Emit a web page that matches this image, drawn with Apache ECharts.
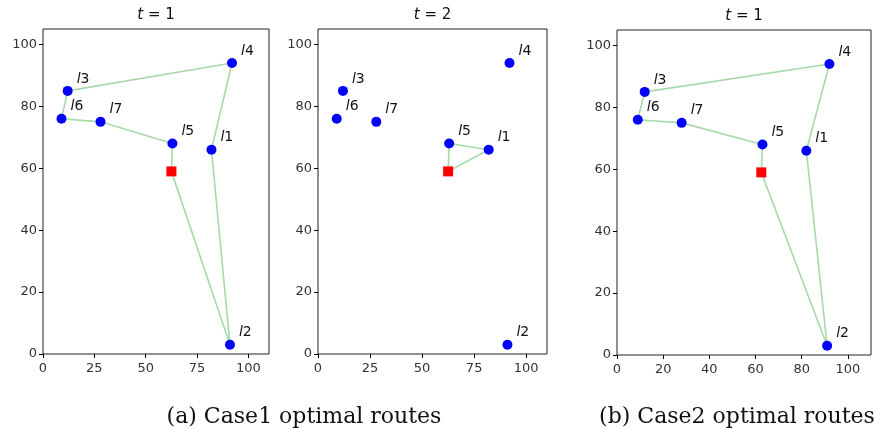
<!DOCTYPE html>
<html>
<head>
<meta charset="utf-8">
<script src="https://cdn.jsdelivr.net/npm/echarts@6/dist/echarts.min.js"></script>
<style>
  html, body { margin: 0; padding: 0; background: #fff; }
  #chart { width: 884px; height: 429px; }
</style>
</head>
<body>
<div id="chart"></div>
<script>
// 客户点坐标
const customerNames = ['1', '2', '3', '4', '5', '6', '7'];
const customerX = [82, 91, 12, 92, 63, 9, 28];
const customerY = [66, 3, 85, 94, 68, 76, 75];
const depot = [62.5, 59];

// 路线（客户下标，-1 表示仓库）
const routeCase1T1 = [-1, 4, 6, 5, 2, 3, 0, 1, -1];
const routeCase1T2 = [-1, 4, 0, -1];
const routeCase2T1 = [-1, 4, 6, 5, 2, 3, 0, 1, -1];

const panelTitles = ['1', '2', '1'];
const xTicksA = [0, 25, 50, 75, 100];
const xTicksB = [0, 20, 40, 60, 80, 100];
const captions = ['(a) Case1 optimal routes', '(b) Case2 optimal routes'];

const chart = echarts.init(document.getElementById('chart'));

const grids = [
    { left: 43, top: 29, width: 226, height: 325 },
    { left: 318, top: 29, width: 229, height: 325 },
    { left: 617, top: 30, width: 254, height: 325 }
];

function routePoints(route) {
    return route.map(i => i < 0 ? depot : [customerX[i], customerY[i]]);
}

const tickFont = { color: '#333', fontSize: 13, fontFamily: 'DejaVu Sans' };

const xAxes = grids.map((g, k) => ({
    gridIndex: k,
    type: 'value',
    min: 0,
    max: 110,
    interval: k === 2 ? xTicksB[1] - xTicksB[0] : xTicksA[1] - xTicksA[0],
    splitLine: { show: false },
    axisLine: { show: false },
    axisTick: { show: true, length: 4, lineStyle: { color: '#000' } },
    axisLabel: Object.assign({ showMaxLabel: false, margin: 8 }, tickFont)
}));

const yAxes = grids.map((g, k) => ({
    gridIndex: k,
    type: 'value',
    min: 0,
    max: 105,
    interval: 20,
    splitLine: { show: false },
    axisLine: { show: false },
    axisTick: { show: true, length: 4, lineStyle: { color: '#000' } },
    axisLabel: Object.assign({ showMaxLabel: false, margin: 6 }, tickFont)
}));

const routes = [routeCase1T1, routeCase1T2, routeCase2T1];
const series = [];
routes.forEach((route, k) => {
    series.push({
        type: 'line',
        xAxisIndex: k, yAxisIndex: k,
        data: routePoints(route),
        symbol: 'none',
        lineStyle: { color: '#a9d8a9', width: 1.6 },
        z: 1,
        silent: true
    });
    series.push({
        type: 'scatter',
        xAxisIndex: k, yAxisIndex: k,
        data: customerX.map((x, i) => ({ value: [x, customerY[i]], name: customerNames[i] })),
        symbol: 'circle',
        symbolSize: 10,
        itemStyle: { color: '#0000ff', opacity: 1 },
        label: {
            show: true,
            position: 'right',
            distance: 4,
            offset: [0, -12],
            formatter: p => '{i|l}{n|' + p.name + '}',
            rich: {
                i: { fontStyle: 'italic', fontSize: 14, color: '#111', fontFamily: 'DejaVu Sans' },
                n: { fontSize: 14, color: '#111', fontFamily: 'DejaVu Sans' }
            }
        },
        z: 3
    });
    series.push({
        type: 'scatter',
        xAxisIndex: k, yAxisIndex: k,
        data: [depot],
        symbol: 'rect',
        symbolSize: 10,
        itemStyle: { color: '#ff0000', opacity: 1 },
        z: 3
    });
});

const titles = grids.map((g, k) => ({
    text: '{i|t} = ' + panelTitles[k],
    left: g.left + g.width / 2,
    top: g.top - 21,
    textAlign: 'center',
    textStyle: {
        fontSize: 15, fontWeight: 'normal', color: '#111', fontFamily: 'DejaVu Sans',
        rich: { i: { fontStyle: 'italic', fontSize: 15, color: '#111', fontFamily: 'DejaVu Sans' } }
    }
}));
titles.push({
    text: captions[0], left: 304, top: 406, textAlign: 'center',
    textStyle: { fontSize: 22, fontWeight: 'normal', color: '#111', fontFamily: 'DejaVu Serif' }
});
titles.push({
    text: captions[1], left: 737, top: 406, textAlign: 'center',
    textStyle: { fontSize: 22, fontWeight: 'normal', color: '#111', fontFamily: 'DejaVu Serif' }
});

chart.setOption({
    backgroundColor: '#fff',
    animation: false,
    title: titles.map(t => Object.assign({ padding: 0 }, t)),
    grid: grids.map(g => Object.assign({ show: true, borderColor: '#222', borderWidth: 1, containLabel: false }, g)),
    xAxis: xAxes,
    yAxis: yAxes,
    series: series
});
</script>
</body>
</html>
